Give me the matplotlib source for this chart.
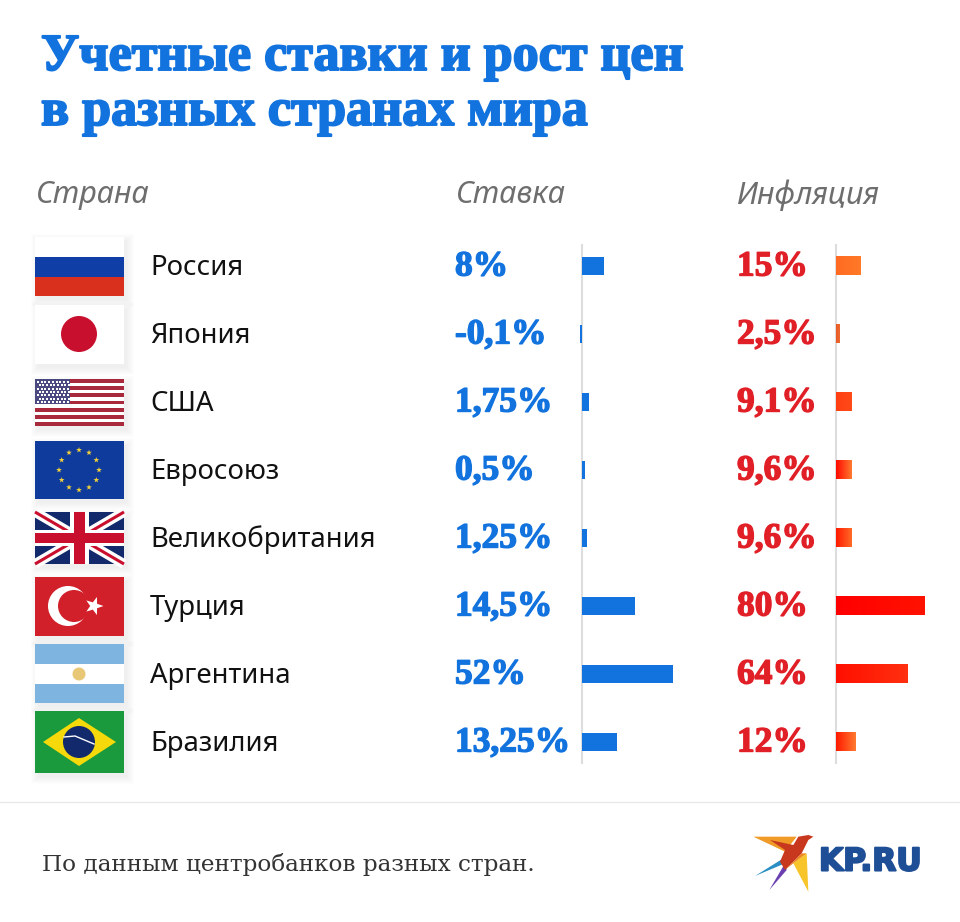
import numpy as np
import matplotlib
matplotlib.use('Agg')
import matplotlib.pyplot as plt
import matplotlib.patheffects as pe
from matplotlib.colors import LinearSegmentedColormap
from matplotlib.patches import Rectangle, Circle, Polygon

countries = ['Россия', 'Япония', 'США', 'Евросоюз', 'Великобритания', 'Турция', 'Аргентина', 'Бразилия']
rate_labels = ['8%', '-0,1%', '1,75%', '0,5%', '1,25%', '14,5%', '52%', '13,25%']
infl_labels = ['15%', '2,5%', '9,1%', '9,6%', '9,6%', '80%', '64%', '12%']
# bar lengths as drawn in the picture, they are not proportional to the labels
rate_bars = [22, -2, 7, 2.5, 5, 53, 90.5, 35]
infl_bars = [25, 4, 16, 16, 16, 89, 71.5, 20]
infl_left = ['#ff6a22', '#e85a28', '#ff3f12', '#ff0a00', '#ff1a00', '#ff0000', '#ff0f00', '#ff1a00']
infl_right = ['#ff7a28', '#ee6a30', '#ff4a18', '#ff7a30', '#ff6a28', '#ff1200', '#ff3010', '#ff7a30']

BLUE = '#1273de'
RED = '#e11f26'
W, H = 960, 922

fig = plt.figure(figsize=(W / 100, H / 100), dpi=100, facecolor='white')
ax = fig.add_axes([0, 0, 1, 1])
ax.set_xlim(0, W)
ax.set_ylim(H, 0)
ax.axis('off')


def rect(x, y, w, h, c, z=2):
    ax.add_patch(Rectangle((x, y), w, h, fc=c, ec='none', zorder=z))


def shadow(y0, y1):
    for i in range(8):
        rect(35 - i + 3, y0 - i + 4, 89 + 2 * i, y1 - y0 + 2 * i, (0.4, 0.4, 0.4, 0.012), 1)


def star(x, y, r, c, z=4, n=5, rot=0):
    ang = np.pi / 2 + rot + np.arange(2 * n) * np.pi / n
    rad = np.where(np.arange(2 * n) % 2 == 0, r, r * 0.4)
    pts = np.c_[x + rad * np.cos(ang), y - rad * np.sin(ang)]
    ax.add_patch(Polygon(pts, fc=c, ec='none', zorder=z))


# Russia
shadow(237, 296)
rect(35, 237, 89, 20, 'white')
rect(35, 257, 89, 20, '#0f3fa6')
rect(35, 277, 89, 19, '#d8301c')
# Japan
shadow(305, 364)
rect(35, 305, 89, 59, 'white')
ax.add_patch(Circle((79, 334), 18, fc='#c8102e', ec='none', zorder=3))
# USA
shadow(379, 426)
rect(35, 379, 89, 47, 'white')
for i in range(7):
    rect(35, 379 + i * 47 / 6.5, 89, 47 / 13, '#a8283c')
rect(35, 379, 35, 25, '#4a4a80', 3)
for r in range(7):
    for c in range(9):
        ax.plot(38 + c * 3.7 + (r % 2) * 1.5, 382 + r * 3.3, 's', ms=1.6, color='white', mew=0, zorder=4)
# EU
shadow(441, 499)
rect(35, 441, 89, 58, '#0f3b9c')
for a in np.arange(12) * np.pi / 6:
    star(79 + 20 * np.cos(a), 470 + 20 * np.sin(a), 3, '#f2d13a')
# UK
shadow(512, 564)
rect(35, 512, 89, 52, '#12296b')
ax.plot([35, 124], [512, 564], color='white', lw=7, zorder=3, solid_capstyle='butt')
ax.plot([35, 124], [564, 512], color='white', lw=7, zorder=3, solid_capstyle='butt')
ax.plot([35, 124], [512, 564], color='#c8102e', lw=2.2, zorder=3.5, solid_capstyle='butt')
ax.plot([35, 124], [564, 512], color='#c8102e', lw=2.2, zorder=3.5, solid_capstyle='butt')
ax.set_xlim(0, W)
rect(35, 530, 89, 16, 'white', 4)
rect(70, 512, 19, 52, 'white', 4)
rect(35, 533, 89, 10, '#c8102e', 5)
rect(74, 512, 11, 52, '#c8102e', 5)
# Turkey
shadow(577, 636)
rect(35, 577, 89, 59, '#d2202a')
ax.add_patch(Circle((68, 606), 20, fc='white', ec='none', zorder=3))
ax.add_patch(Circle((74, 606), 16, fc='#d2202a', ec='none', zorder=4))
star(94, 606, 9.5, 'white', 5, rot=-np.pi / 2)
# Argentina
shadow(644, 703)
rect(35, 644, 89, 20, '#7db4e0')
rect(35, 664, 89, 20, 'white')
rect(35, 684, 89, 19, '#7db4e0')
ax.add_patch(Circle((79, 674), 6.5, fc='#e8c877', ec='none', zorder=3))
# Brazil
shadow(711, 773)
rect(35, 711, 89, 62, '#1a9a3c')
ax.add_patch(Polygon([[43, 742], [79, 718], [116, 742], [79, 766]], fc='#f5d90a', ec='none', zorder=3))
ax.add_patch(Circle((79, 742), 16, fc='#12296b', ec='none', zorder=4))
ax.plot([64, 75, 94], [737, 736, 744], color='white', lw=1, zorder=5)

# titles and headers
for y, s in zip([70, 125], ['Учетные ставки и рост цен', 'в разных странах мира']):
    ax.text(41, y, s, fontsize=37.5, fontweight='bold', family='Liberation Serif', color=BLUE, va='baseline',
            path_effects=[pe.withStroke(linewidth=1.4, foreground=BLUE)])
for x, s in zip([35, 455, 737], ['Страна', 'Ставка', 'Инфляция']):
    ax.text(x, 195, s, fontsize=22, style='italic', family='Noto Sans', color='#6e6e6e', va='center')

for i in range(len(countries)):
    y = 266 + 68 * i
    ax.text(150, y + 2, countries[i], fontsize=19.8, family='Noto Sans', color='#111111', va='center')
    ax.text(455, y + 1, rate_labels[i], fontsize=25.5, fontweight='bold', family='Liberation Serif', color=BLUE,
            va='center', path_effects=[pe.withStroke(linewidth=1.0, foreground=BLUE)])
    ax.text(737, y + 1, infl_labels[i], fontsize=25.5, fontweight='bold', family='Liberation Serif', color=RED,
            va='center', path_effects=[pe.withStroke(linewidth=1.0, foreground=RED)])

# footer
ax.plot([0, W], [802, 802], color='#e8e8e8', lw=1)
ax.text(42, 864, 'По данным центробанков разных стран.', fontsize=16.7, family='DejaVu Serif', color='#333333', va='center')


# logo, outline
def logo(pts, c, z=3):
    pts = np.array(pts, dtype=float) / 3 + [730, 820]
    ax.add_patch(Polygon(pts, fc=c, ec='none', zorder=z))


logo([(70, 50), (200, 50), (165, 95)], '#f09a28')
logo([(120, 60), (190, 75), (205, 50), (235, 45), (250, 50), (235, 60), (215, 100), (165, 150), (150, 125), (165, 90)],
     '#c8381e', 4)
logo([(75, 168), (160, 115), (165, 130)], '#2a8fc4')
logo([(118, 210), (165, 130), (170, 150)], '#6a3fb0')
logo([(190, 130), (230, 100), (235, 215)], '#f7c52a')
logo([(165, 150), (215, 100), (230, 100), (190, 130)], '#ee8a20')
ax.text(819, 862, 'KP.RU', fontsize=22.5, fontweight='bold', family='DejaVu Sans', color='#1d4e96', va='center',
        path_effects=[pe.withStroke(linewidth=1.5, foreground='#1d4e96')])


def bar_axes(x0, x1, lo, hi):
    a = fig.add_axes([x0 / W, 1 - 763 / H, (x1 - x0) / W, (763 - 245) / H])
    a.patch.set_alpha(0)
    a.set_xlim(lo, hi)
    a.set_ylim(7.31, -0.31)
    a.set_xticks([])
    a.set_yticks([])
    for s in ['top', 'right', 'bottom']:
        a.spines[s].set_visible(False)
    a.spines['left'].set_position(('data', 0))
    a.spines['left'].set_color('#dddddd')
    a.spines['left'].set_linewidth(1.5)
    return a


rows = np.arange(len(countries))
ax_rate = bar_axes(572, 692, -10, 110)
ax_rate.barh(rows, rate_bars, height=0.265, color=BLUE, zorder=3)

ax_infl = bar_axes(826, 946, -10, 110)
bars = ax_infl.barh(rows, infl_bars, height=0.265, color='none', zorder=3)
for b, c0, c1 in zip(bars, infl_left, infl_right):
    cm = LinearSegmentedColormap.from_list('g', [c0, c1])
    ax_infl.imshow(np.linspace(0, 1, 64)[None, :], cmap=cm, aspect='auto', zorder=3,
                   extent=(b.get_x(), b.get_x() + b.get_width(), b.get_y() + b.get_height(), b.get_y()))
ax_infl.set_xlim(-10, 110)
ax_infl.set_ylim(7.31, -0.31)

fig.savefig('out.png', dpi=100, facecolor='white')
